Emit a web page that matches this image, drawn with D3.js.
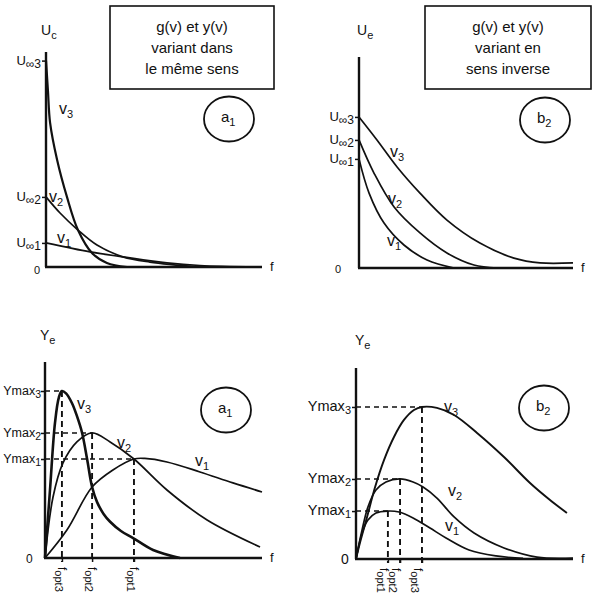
<!DOCTYPE html>
<html><head><meta charset="utf-8">
<script src="https://cdn.jsdelivr.net/npm/d3@7"></script>
<style>
html,body{margin:0;padding:0;background:#fff;}
svg{display:block;}
text{font-family:"Liberation Sans","DejaVu Sans",sans-serif;fill:#111;}
</style></head>
<body>
<svg id="chart" width="597" height="598"></svg>
<script>
// ===== DATA (panel-local units: x 0..100 along f axis, y 0..100 along vertical axis) =====
// Panel a1 (top-left): Uc vs f
const uaV1 = [[0,11.2],[20.4,7],[35.6,4.7],[56,1.9],[71.3,0.7],[100,0]];
const uaV2 = [[0,32.6],[6.5,25.1],[14.8,17.2],[23.6,10.2],[35.6,4.7],[48.1,2.3],[71.3,0]];
const uaV3 = [[0,96],[0.9,82],[1.9,67],[5.1,50],[9.7,32.6],[14.8,17.2],[21.3,6.5],[28.2,1.9],[37.5,0]];
const uaTicks = [11.2,32.6,96];
const uaTickLabels = ["1","2","3"];
// Panel b2 (top-right): Ue vs f
const ubV1 = [[0,51.7],[4.7,35.5],[11.7,21.3],[21,10.9],[31.8,3.8],[44.4,0]];
const ubV2 = [[0,60.7],[7,45],[16.4,28.9],[28.5,16.6],[41.1,7.1],[53.7,1.4],[64.5,0]];
const ubV3 = [[0,71.6],[8.4,60.7],[17.8,47.9],[28.5,35.5],[41.1,22.7],[56.5,11.8],[72.4,4.7],[84.6,2.4],[100,2.4]];
const ubTicks = [51.7,60.7,71.6];
const ubTickLabels = ["1","2","3"];
// Panel a1 (bottom-left): Ye vs f
const yaV1 = [[0,0],[10.1,14.3],[21.7,36.2],[31.3,44.9],[41,50.5],[46,50.8],[56.2,49],[71.4,43.9],[86.6,38.3],[100,33.7]];
const yaV2 = [[0,0],[3.7,31.1],[8.3,48.5],[14.7,59.2],[21.7,63.8],[30,59.2],[41,50.5],[56.2,34.7],[74.7,19.4],[99.1,5.6]];
const yaV3 = [[0,0],[2.3,34.7],[4.6,68.9],[6.4,82],[7.8,85.2],[9.7,84],[12.4,79.1],[14.7,72.5],[17.1,63.8],[19.4,50.5],[21.7,36.2],[24,28.5],[27,22.5],[30,18.5],[35,13.8],[40.6,10.2],[49.8,4.1],[62.2,0]];
const yaYmax = [50.5,63.8,85.2];
const yaFopt = [41,21.7,7.8];
const yaIdx = ["1","2","3"];
// Panel b2 (bottom-right): Ye vs f
const ybV1 = [[0,0],[2.8,13.6],[5.5,20.4],[9.2,24.1],[14.7,25.1],[19.8,24.6],[26.3,21.5],[34.1,16.2],[41.5,11],[52.1,4.7],[64.5,1.6],[77,0.3]];
const ybV2 = [[0,0],[2.8,15.2],[5.5,27.2],[9.2,36.1],[13.8,40.3],[20.3,41.9],[26.3,40.3],[30.9,37.7],[37.3,31.9],[45.2,22],[54.4,13.6],[68.2,5.8],[83.4,1],[100,0.5]];
const ybV3 = [[0,0],[1.8,8.4],[5.1,22],[8.8,37.7],[12.9,51.8],[17.5,63.9],[22.1,72.8],[26.7,78],[30.4,79.6],[37.3,79.1],[45.2,75.4],[55.8,66],[68.2,53.4],[80.2,39.8],[89.4,30.9],[97.2,24.1]];
const ybYmax = [25.1,41.9,79.6];
const ybFopt = [14.7,20.3,30.4];
const ybIdx = ["1","2","3"];

const boxTextA = ["g(v) et y(v)","variant dans","le même sens"];
const boxTextB = ["g(v) et y(v)","variant en","sens inverse"];

// ===== LAYOUT =====
const svg = d3.select("#chart");
const line = d3.line().curve(d3.curveCatmullRom.alpha(0.5));

function subText(g, x, y, main, sub, opts={}){
  const t = g.append("text").attr("x",x).attr("y",y)
    .attr("font-size",opts.size||13).attr("text-anchor",opts.anchor||"start");
  if(opts.transform) t.attr("transform",opts.transform);
  t.append("tspan").text(main);
  t.append("tspan").attr("font-size",(opts.subSize||((opts.size||13)*0.78))).attr("dy",opts.dy||4).text(sub);
  return t;
}

function panel(cfg){
  const g = svg.append("g");
  const x = d3.scaleLinear().domain([0,100]).range([cfg.x0,cfg.x1]);
  const y = d3.scaleLinear().domain([0,100]).range([cfg.y0,cfg.y1]);
  // curves
  cfg.series.forEach((s,i)=>{
    g.append("path").attr("d",line(s.map(d=>[x(d[0]),y(d[1])])))
      .attr("fill","none").attr("stroke","#111")
      .attr("stroke-width",cfg.widths[i]).attr("stroke-linejoin","round");
  });
  // dashed guides
  if(cfg.ymax){
    cfg.ymax.forEach((v,i)=>{
      const fx = cfg.fopt[i];
      g.append("line").attr("x1",x(0)).attr("x2",x(fx)).attr("y1",y(v)).attr("y2",y(v))
        .attr("stroke","#111").attr("stroke-width",1.4).attr("stroke-dasharray","5,4");
      g.append("line").attr("x1",x(fx)).attr("x2",x(fx)).attr("y1",y(v)).attr("y2",y(0)+4)
        .attr("stroke","#111").attr("stroke-width",1.9).attr("stroke-dasharray","6,4");
    });
  }
  // axes
  const yAxis = d3.axisLeft(y).tickValues(cfg.ticks).tickSize(4).tickSizeOuter(0).tickFormat("");
  const ya = g.append("g").attr("transform",`translate(${cfg.x0},0)`).call(yAxis);
  ya.select(".domain").attr("stroke","#111").attr("stroke-width",2.4)
    .attr("d",`M0,${cfg.y0}V${cfg.y1}`);
  ya.selectAll(".tick line").attr("stroke","#111").attr("stroke-width",1.5);
  const xAxis = d3.axisBottom(x).tickValues(cfg.fopt||[]).tickSize(cfg.fopt?4:0).tickSizeOuter(0).tickFormat("");
  const xa = g.append("g").attr("transform",`translate(0,${cfg.y0})`).call(xAxis);
  xa.select(".domain").attr("stroke","#111").attr("stroke-width",2.4)
    .attr("d",`M${cfg.x0-1},0H${cfg.x1}`);
  xa.selectAll(".tick line").attr("stroke","#111").attr("stroke-width",1.5);

  // y tick labels
  cfg.ticks.forEach((v,i)=>{
    subText(g, cfg.x0-cfg.tickGap, y(v)+4, cfg.tickMain, cfg.tickSub[i], {anchor:"end", size:cfg.tickSize, dy:3, subSize:cfg.tickSubSize});
  });
  // fopt labels (rotated)
  if(cfg.fopt){
    cfg.fopt.forEach((v,i)=>{
      subText(g, 0, 0, "f", "opt"+cfg.foptIdx[i], {size:12, dy:3, subSize:11,
        transform:`translate(${x(v)+cfg.foptShift},${cfg.y0+9}) rotate(90)`});
    });
  }
  // axis titles
  subText(g, cfg.titlePos[0], cfg.titlePos[1], cfg.title, cfg.titleSub, {size:14, dy:4, subSize:11});
  g.append("text").attr("x",cfg.x1+8).attr("y",cfg.y0+4).attr("font-size",13).text("f");
  g.append("text").attr("x",cfg.zeroPos[0]).attr("y",cfg.zeroPos[1]).attr("font-size",cfg.zeroSize).text("0");
  // curve labels
  cfg.labels.forEach((p,i)=>{
    subText(g, p[0], p[1], "v", String(i+1), {size:16, dy:4, subSize:11});
  });
  // circle tag
  g.append("ellipse").attr("cx",cfg.circle[0]).attr("cy",cfg.circle[1]).attr("rx",25).attr("ry",22.5)
    .attr("fill","none").attr("stroke","#111").attr("stroke-width",1.8);
  subText(g, cfg.circle[0]-8, cfg.circle[1]+3, cfg.tag, cfg.tagSub, {size:15, dy:4, subSize:11});
  // text box
  if(cfg.box){
    const b = cfg.box;
    g.append("rect").attr("x",b[0]).attr("y",b[1]).attr("width",b[2]).attr("height",b[3])
      .attr("fill","none").attr("stroke","#111").attr("stroke-width",1.6);
    cfg.boxText.forEach((t,i)=>{
      g.append("text").attr("x",b[0]+b[2]/2).attr("y",b[1]+26+i*21).attr("text-anchor","middle")
        .attr("font-size",15).text(t);
    });
  }
}

panel({x0:46,x1:262,y0:267,y1:52, series:[uaV1,uaV2,uaV3], widths:[1.7,1.7,2.2],
  ticks:uaTicks, tickMain:"U", tickSub:uaTickLabels.map(s=>"∞"+s), tickSize:13, tickSubSize:12, tickGap:5,
  title:"U", titleSub:"c", titlePos:[41,35], zeroPos:[34,274], zeroSize:11,
  labels:[[57,243],[49,202],[59,114]], circle:[229,119], tag:"a", tagSub:"1",
  box:[110,6,164,83], boxText:boxTextA});

panel({x0:359,x1:573,y0:268,y1:57, series:[ubV1,ubV2,ubV3], widths:[1.7,1.7,1.7],
  ticks:ubTicks, tickMain:"U", tickSub:ubTickLabels.map(s=>"∞"+s), tickSize:13, tickSubSize:12, tickGap:5,
  title:"U", titleSub:"e", titlePos:[357,35], zeroPos:[335,273], zeroSize:11,
  labels:[[387,246],[388,204],[390,157]], circle:[545,120], tag:"b", tagSub:"2",
  box:[425,6,166,83], boxText:boxTextB});

panel({x0:45,x1:262,y0:558,y1:362, series:[yaV1,yaV2,yaV3], widths:[1.7,1.7,2.6],
  ticks:yaYmax, tickMain:"Ymax", tickSub:yaIdx, tickSize:12.5, tickSubSize:10.5, tickGap:4,
  ymax:yaYmax, fopt:yaFopt, foptIdx:["1","2","3"], foptShift:-4,
  title:"Y", titleSub:"e", titlePos:[40,340], zeroPos:[26,563], zeroSize:12,
  labels:[[195,466],[117,448],[77,409]], circle:[226,410], tag:"a", tagSub:"1"});

panel({x0:356,x1:573,y0:559,y1:368, series:[ybV1,ybV2,ybV3], widths:[1.7,1.7,1.9],
  ticks:ybYmax, tickMain:"Ymax", tickSub:ybIdx, tickSize:14.5, tickSubSize:11, tickGap:5,
  ymax:ybYmax, fopt:ybFopt, foptIdx:["1","2","3"], foptShift:-8,
  title:"Y", titleSub:"e", titlePos:[355,345], zeroPos:[341,564], zeroSize:14,
  labels:[[445,531],[448,496],[444,412]], circle:[544,408], tag:"b", tagSub:"2"});
</script>
</body></html>
